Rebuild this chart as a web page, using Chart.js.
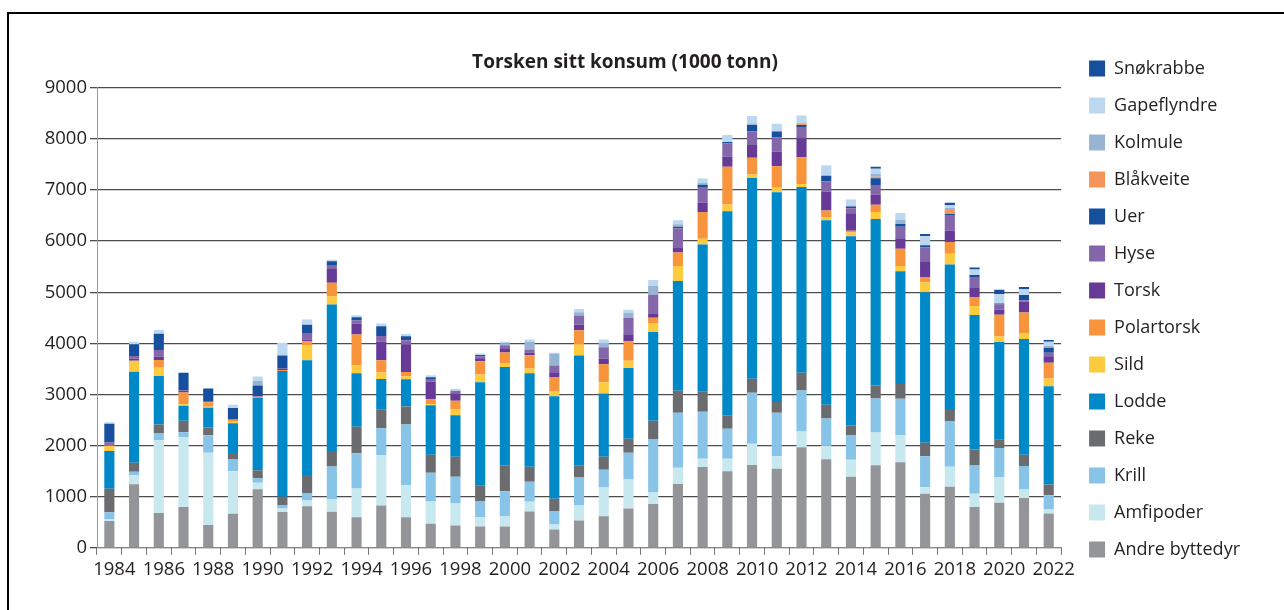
<!DOCTYPE html>
<html>
<head>
<meta charset="utf-8">
<script src="https://cdn.jsdelivr.net/npm/chart.js@4"></script>
<style>
  body { margin: 0; background: #fff; }
  #wrap { position: relative; width: 1284px; height: 610px; overflow: hidden; }
  #frame { position: absolute; left: 7px; top: 12px; width: 1400px; height: 700px; border: 2px solid #000; }
  #myChart { position: absolute; left: 0; top: 0; }
</style>
</head>
<body>
<div id="wrap">
  <div id="frame"></div>
  <canvas id="myChart" width="1284" height="610"></canvas>
</div>
<script>
let years = ["1984","1985","1986","1987","1988","1989","1990","1991","1992","1993",
  "1994","1995","1996","1997","1998","1999","2000","2001","2002","2003",
  "2004","2005","2006","2007","2008","2009","2010","2011","2012","2013",
  "2014","2015","2016","2017","2018","2019","2020","2021","2022"];

// values in 1000 tonn, 1984..2022
let andre      = [523,1242,680,797,444,667,1144,698,815,704,600,828,600,469,437,417,417,711,359,535,619,770,855,1246,1579,1500,1618,1545,1969,1734,1389,1617,1675,1056,1194,796,881,972,672];
let amfipoder  = [30,183,1431,1373,1418,830,131,72,111,241,561,984,626,437,430,183,196,189,98,293,561,568,228,320,163,241,417,248,306,261,332,639,528,130,391,261,502,170,78];
let krill      = [144,65,137,92,340,229,85,59,137,645,691,528,1186,561,522,306,495,391,261,548,345,522,1044,1076,920,587,998,847,802,535,476,665,711,606,887,554,568,457,280];
let reke       = [458,176,163,222,150,131,157,170,359,306,515,359,352,352,391,306,508,293,241,241,254,274,359,431,391,267,274,215,346,267,196,254,293,261,222,313,163,222,209];
let lodde      = [739,1778,948,294,386,582,1412,2458,2249,2862,1050,606,535,971,815,2027,1923,1832,2008,2145,1239,1383,1735,2146,2883,3992,3927,4100,3638,3611,3703,3259,2203,2947,2851,2629,1911,2264,1924];
let sild       = [98,216,163,33,20,26,0,0,287,163,150,124,52,20,111,150,65,91,91,215,222,144,176,294,111,130,72,91,59,59,72,137,104,196,209,176,111,117,150];
let polartorsk = [10,0,150,229,92,39,26,20,85,267,606,241,91,98,169,261,215,261,274,280,352,378,104,267,522,737,326,417,522,130,33,143,339,91,228,170,424,404,307];
let torsk      = [15,45,72,33,0,10,10,33,33,267,215,365,541,339,150,59,85,52,104,111,111,124,72,85,183,196,249,287,365,372,346,196,189,319,228,183,104,209,130];
let hyse       = [50,50,124,13,20,0,5,0,111,65,59,111,78,39,46,39,59,59,130,176,222,333,378,385,294,262,262,280,228,202,98,189,241,274,300,215,98,26,65];
let uer        = [360,229,320,340,248,222,203,254,176,85,65,189,78,52,0,26,0,0,0,0,0,0,0,33,59,26,131,117,39,104,33,130,52,39,20,39,20,104,98];
let blakveite  = [0,0,0,0,0,0,0,0,0,0,0,0,0,0,0,0,0,0,0,0,0,0,0,0,0,0,0,0,33,0,0,30,0,0,78,0,0,0,0];
let kolmule    = [0,0,0,0,0,0,92,0,0,0,0,0,0,0,0,0,33,150,235,65,85,104,170,46,33,0,26,13,0,20,20,61,85,0,39,0,0,0,33];
let gapeflyndre= [30,45,72,0,5,65,85,248,104,33,39,52,46,39,39,26,33,46,13,65,65,59,117,78,85,137,150,137,150,189,117,98,130,176,59,111,183,117,85];
let snokrabbe  = [0,0,0,0,0,0,0,0,0,0,0,0,0,0,0,0,0,0,0,0,0,0,0,0,0,0,0,0,0,0,0,39,0,46,46,39,85,39,33];

let seriesNames = ["Andre byttedyr","Amfipoder","Krill","Reke","Lodde","Sild","Polartorsk",
  "Torsk","Hyse","Uer","Blåkveite","Kolmule","Gapeflyndre","Snøkrabbe"];
let seriesData = [andre, amfipoder, krill, reke, lodde, sild, polartorsk,
  torsk, hyse, uer, blakveite, kolmule, gapeflyndre, snokrabbe];
let colors = ['#939598','#c8e8f0','#87c4e8','#6b6c70','#0089c8','#fecb3e','#f7943c',
  '#663a96','#8466aa','#164f9e','#f5955a','#98b4d4','#bcd8f0','#164f9e'];

Chart.defaults.font.family = "'Open Sans', sans-serif";
Chart.defaults.color = '#231f20';

let ctx = document.getElementById("myChart").getContext('2d');
let myChart = new Chart(ctx, {
    type: 'bar',
    data: {
        labels: years,
        datasets: seriesNames.map((name, i) => ({
            label: name,
            data: seriesData[i],
            backgroundColor: colors[i],
            borderWidth: 0,
            categoryPercentage: 1,
            barPercentage: 0.41
        }))
    },
    options: {
        responsive: false,
        animation: false,
        layout: { padding: { top: 33, bottom: 25, left: 0, right: 34 } },
        plugins: {
            title: {
                display: true,
                text: 'Torsken sitt konsum (1000 tonn)',
                font: { size: 19, weight: 'bold', lineHeight: 1.2 },
                padding: { top: 18, bottom: 14 }
            },
            legend: {
                position: 'right',
                reverse: true,
                labels: {
                    boxWidth: 16,
                    boxHeight: 16,
                    padding: 19,
                    font: { size: 18 }
                }
            },
            tooltip: { enabled: false }
        },
        scales: {
            x: {
                stacked: true,
                grid: { drawOnChartArea: false, tickLength: 7, color: '#777' },
                border: { color: '#888' },
                ticks: {
                    autoSkip: false,
                    maxRotation: 0,
                    padding: 4,
                    labelOffset: 5,
                    font: { size: 18.5 },
                    callback: function (value, index) {
                        return index % 2 === 0 ? years[index] : '';
                    }
                }
            },
            y: {
                stacked: true,
                min: 0,
                max: 9000,
                afterFit: function (axis) { axis.width = 97; },
                grid: { color: '#4d4d4d', lineWidth: 1.3, tickLength: 7 },
                border: { color: '#999' },
                ticks: {
                    stepSize: 1000,
                    padding: 3,
                    font: { size: 18.5 },
                    callback: function (value) { return String(value); }
                }
            },
            // empty spacer between plot and legend
            gap: {
                position: 'right',
                grid: { display: false },
                border: { display: false },
                ticks: { display: false },
                afterFit: function (axis) { axis.width = 9; }
            }
        }
    }
});
</script>
</body>
</html>
